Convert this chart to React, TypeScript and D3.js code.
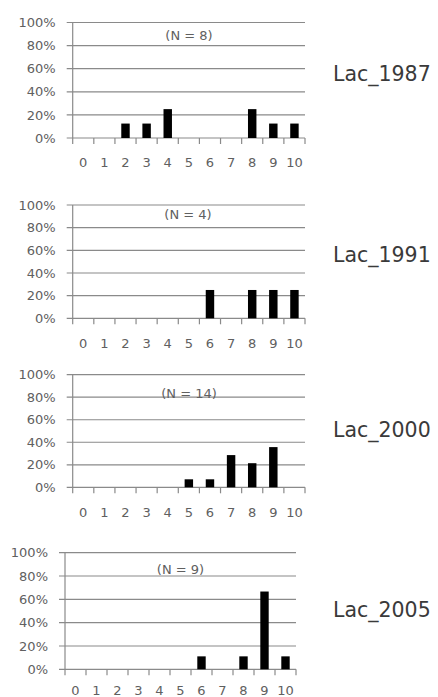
import React, { useEffect, useRef } from 'react';
import * as d3 from 'd3';

// score categories on the x axis
const scores = ['0', '1', '2', '3', '4', '5', '6', '7', '8', '9', '10'];
const yTicks = [0, 20, 40, 60, 80, 100];

// share of lakes (%) per score, one array per survey year
const lac1987 = [0, 0, 12.5, 12.5, 25, 0, 0, 0, 25, 12.5, 12.5];
const lac1991 = [0, 0, 0, 0, 0, 0, 25, 0, 25, 25, 25];
const lac2000 = [0, 0, 0, 0, 0, 7.1, 7.1, 28.6, 21.4, 35.7, 0];
const lac2005 = [0, 0, 0, 0, 0, 0, 11.1, 0, 11.1, 66.7, 11.1];

const panelNames = ['Lac_1987', 'Lac_1991', 'Lac_2000', 'Lac_2005'];
const panelCounts = [8, 4, 14, 9];
const panelValues = [lac1987, lac1991, lac2000, lac2005];

// plot boxes for each panel (pixels)
const layout = [
    { left: 72.7, right: 305, top: 22.5, bottom: 138, nX: 189, nY: 39.5, labelY: 80.5, tickY: 167 },
    { left: 72.7, right: 305, top: 205, bottom: 318.3, nX: 188, nY: 219, labelY: 262, tickY: 347.5 },
    { left: 72.7, right: 305, top: 374.7, bottom: 487.3, nX: 189, nY: 398, labelY: 436.7, tickY: 516.5 },
    { left: 65, right: 296, top: 552.7, bottom: 669.3, nX: 180.5, nY: 574, labelY: 616.7, tickY: 695 },
];

const WIDTH = 438;
const HEIGHT = 697;
const FONT = '"DejaVu Sans", sans-serif';
const GRID = '#8a8a8a';
const TEXT = '#606060';

const App = () => {
    const ref = useRef<SVGSVGElement>(null);

    useEffect(() => {
        const svg = d3.select(ref.current);
        svg.selectAll('*').remove();

        svg.append('rect').attr('width', WIDTH).attr('height', HEIGHT).attr('fill', '#fff');

        panelValues.forEach((values, p) => {
            const box = layout[p];
            const g = svg.append('g');

            const x = d3.scaleBand()
                .domain(scores)
                .range([box.left, box.right])
                .paddingInner(0.6)
                .paddingOuter(0.3);
            const step = x.step();

            const y = d3.scaleLinear()
                .domain([0, 100])
                .range([box.bottom, box.top]);

            // gridlines + left ticks
            g.selectAll('line.grid')
                .data(yTicks)
                .enter()
                .append('line')
                .attr('x1', box.left - 6)
                .attr('x2', box.right)
                .attr('y1', d => y(d))
                .attr('y2', d => y(d))
                .attr('stroke', GRID)
                .attr('stroke-width', 1.2);

            // y axis line
            g.append('line')
                .attr('x1', box.left)
                .attr('x2', box.left)
                .attr('y1', y(100))
                .attr('y2', y(0))
                .attr('stroke', GRID)
                .attr('stroke-width', 1.2);

            // x ticks on category boundaries
            g.selectAll('line.xtick')
                .data(d3.range(scores.length + 1))
                .enter()
                .append('line')
                .attr('x1', i => box.left + i * step)
                .attr('x2', i => box.left + i * step)
                .attr('y1', y(0))
                .attr('y2', y(0) + 6)
                .attr('stroke', GRID)
                .attr('stroke-width', 1.2);

            g.selectAll('text.ylab')
                .data(yTicks)
                .enter()
                .append('text')
                .attr('x', box.left - 17)
                .attr('y', d => y(d))
                .attr('dy', '0.36em')
                .attr('text-anchor', 'end')
                .attr('font-family', FONT)
                .attr('font-size', 13)
                .attr('fill', TEXT)
                .text(d => d + '%');

            g.selectAll('text.xlab')
                .data(scores)
                .enter()
                .append('text')
                .attr('x', d => (x(d) as number) + x.bandwidth() / 2)
                .attr('y', box.tickY)
                .attr('text-anchor', 'middle')
                .attr('font-family', FONT)
                .attr('font-size', 13)
                .attr('fill', TEXT)
                .text(d => d);

            g.selectAll('rect.bar')
                .data(values)
                .enter()
                .append('rect')
                .attr('x', (d, i) => x(scores[i]) as number)
                .attr('y', d => y(d))
                .attr('width', x.bandwidth())
                .attr('height', d => y(0) - y(d))
                .attr('fill', '#000');

            g.append('text')
                .attr('x', box.nX)
                .attr('y', box.nY)
                .attr('text-anchor', 'middle')
                .attr('font-family', FONT)
                .attr('font-size', 13)
                .attr('fill', TEXT)
                .text(`(N = ${panelCounts[p]})`);

            g.append('text')
                .attr('x', 333)
                .attr('y', box.labelY)
                .attr('font-family', FONT)
                .attr('font-size', 20.5)
                .attr('fill', '#3a3a3a')
                .text(panelNames[p]);
        });
    }, []);

    return (
        <svg
            ref={ref}
            width={WIDTH}
            height={HEIGHT}
            style={{ position: 'absolute', left: 0, top: 0, display: 'block' }}
        ></svg>
    );
};

export default App;
